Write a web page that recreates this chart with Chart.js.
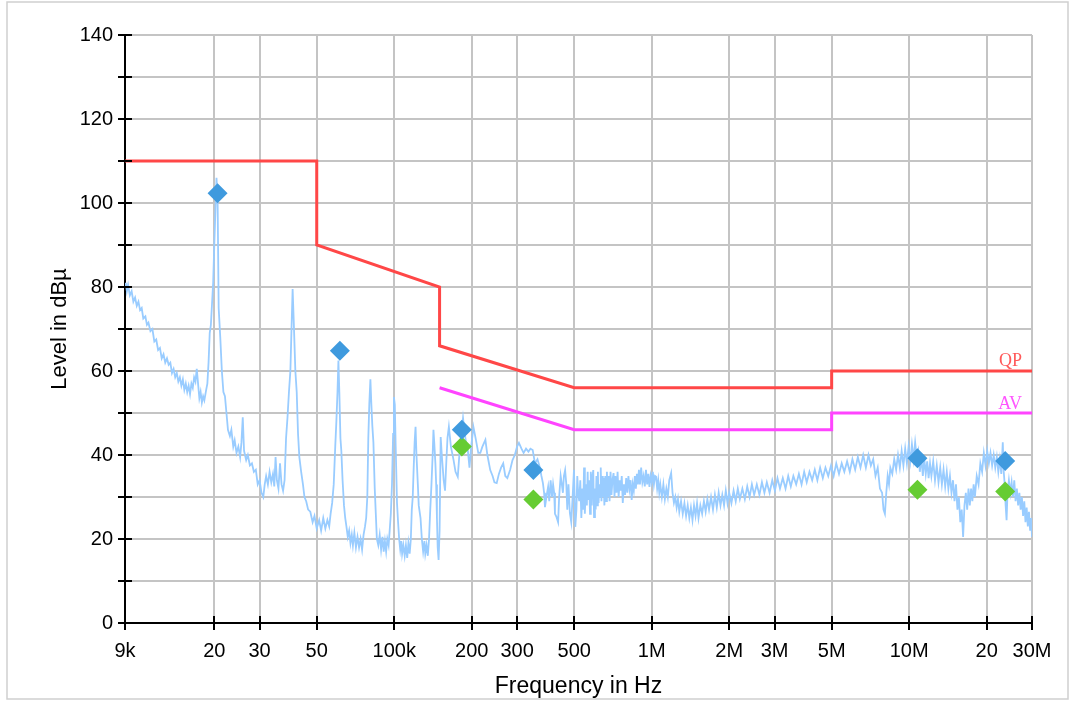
<!DOCTYPE html>
<html>
<head>
<meta charset="utf-8">
<title>Spectre</title>
<script src="https://cdn.jsdelivr.net/npm/chart.js@4.4.0/dist/chart.umd.min.js"></script>
<style>
  body { margin: 0; background: #fff; }
</style>
</head>
<body>
<canvas id="graphique" width="1070" height="701"></canvas>
<script>
// Axe des fréquences (Hz)
var xMin = 9e3, xMax = 3e7;
var xTickValues = [9e3, 2e4, 3e4, 5e4, 1e5, 2e5, 3e5, 5e5, 1e6, 2e6, 3e6, 5e6, 1e7, 2e7, 3e7];
var xTickLabels = ["9k", "20", "30", "50", "100k", "200", "300", "500", "1M", "2M", "3M", "5M", "10M", "20", "30M"];
// Axe des niveaux (dBµV)
var yMin = 0, yMax = 140, yStep = 10, yLabelEvery = 20;

// Limites QP et AV
var qpLimitFreq = [9e3, 5e4, 5e4, 1.5e5, 1.5e5, 5e5, 5e6, 5e6, 3e7];
var qpLimitLevel = [110, 110, 90, 80, 66, 56, 56, 60, 60];
var avLimitFreq = [1.5e5, 5e5, 5e6, 5e6, 3e7];
var avLimitLevel = [56, 46, 46, 50, 50];

// Mesures finales
var qpPeakFreq = [2.06e4, 6.15e4, 1.83e5, 3.47e5, 1.077e7, 2.36e7];
var qpPeakLevel = [102.3, 64.8, 46.0, 36.4, 39.2, 38.6];
var avPeakFreq = [1.83e5, 3.47e5, 1.077e7, 2.36e7];
var avPeakLevel = [42.0, 29.4, 31.7, 31.3];

// Balayage (kHz, dBµV)
var spectrum = [
  [9.0,80],[9.06,81],[9.15,79],[9.25,80.5],[9.4,78],[9.55,79],[9.7,76.5],[9.85,77.5],[10.0,75.5],[10.15,76.5],
  [10.3,74.5],[10.45,75],[10.6,72.5],[10.8,73],[10.95,71],[11.1,71.5],[11.3,69.5],[11.5,70],[11.7,67],[11.9,67.5],
  [12.1,65],[12.3,65.5],[12.5,63],[12.7,64],[12.9,62],[13.1,63],[13.3,61.5],[13.5,62],[13.7,59.5],[13.9,60.5],
  [14.1,58.5],[14.3,59.5],[14.5,57.5],[14.7,58.5],[14.9,56.5],[15.1,58],[15.3,55.5],[15.5,57],[15.7,55],[15.9,56.5],
  [16.1,54.5],[16.3,57],[16.5,56],[16.7,58.5],[16.9,57.5],[17.1,60.5],[17.3,57],[17.5,53.5],[17.7,55],[17.9,52.5],
  [18.1,54],[18.3,53],[18.6,55.5],[18.8,57],[19.0,62],[19.2,69],[19.4,71],[19.6,76],[19.8,81],[20.0,90],
  [20.2,98],[20.4,106],[20.6,101],[20.8,75],[21.1,68],[21.4,60],[21.7,55],[22.0,54],[22.3,50],[22.6,46],
  [23.0,44.5],[23.3,46],[23.7,42],[24.0,43.5],[24.4,40.5],[24.8,42],[25.2,39.5],[25.5,43],[25.8,49],[26.1,41],
  [26.6,38.8],[27.0,40],[27.5,37.5],[28.0,38],[28.5,36],[29.0,36.5],[29.5,33],[30.0,34],[30.5,31],[31.0,30],
  [31.4,33],[31.8,35],[32.3,33],[32.8,36],[33.3,33.5],[33.8,35.5],[34.2,32.5],[34.6,39.5],[35.0,34],[35.5,32],
  [36.0,38],[36.5,33],[37.0,31.5],[37.5,34],[38.0,44],[38.5,49],[39.0,55],[39.5,60],[39.9,70],[40.3,79.5],
  [40.7,72],[41.3,60],[41.8,55],[42.3,45],[42.8,39.5],[43.5,36],[44.2,33],[44.8,30],[45.5,29],[46.3,27],
  [47.2,26.5],[48.2,24],[49.0,25.5],[50.0,22.5],[51.1,24.5],[52.0,22],[53.0,25],[54.0,22.5],[55.0,24.5],[55.9,23],
  [56.6,26],[57.4,28.6],[58.2,33],[59.0,42],[59.6,48],[60.2,55],[60.7,62.5],[61.2,55],[61.8,44],[62.3,41],
  [63.0,34],[63.8,28],[64.5,25],[65.2,23],[66.0,20.5],[66.8,22],[67.6,19],[68.4,21],[69.1,18.5],[70.0,21.5],
  [71.0,18],[72.0,20.5],[73.0,18],[74.0,20],[75.0,17.5],[76.0,21],[77.0,23],[77.8,25],[78.6,30],[79.3,44],
  [80.0,52],[80.8,58],[81.5,52],[82.2,47],[83.0,43],[84.0,32],[84.8,26],[85.6,20],[86.7,18.5],[87.8,21],
  [88.9,17.5],[90.0,20.5],[91.0,17],[92.0,19.5],[93.0,17],[94.0,20],[95.1,18.5],[96.0,22],[97.0,26],[98.0,33],
  [99.0,45],[99.7,53.8],[100.5,52],[101.3,42],[102.5,28.6],[103.5,24],[104.5,20],[105.5,17.5],[106.5,19.5],[107.3,16.5],
  [108.5,18.5],[109.8,16],[111.0,18.5],[112.3,15.5],[113.5,19],[114.8,16.5],[116.0,20],[117.0,27],[118.0,30],[119.0,37],
  [120.0,43],[121.0,46.7],[122.0,40],[123.5,33],[124.5,28],[126.5,25],[128.0,20],[129.5,17],[131.0,19.5],[132.0,16.5],
  [133.5,18.5],[135.0,16],[136.5,20],[138.0,27],[139.5,33],[141.0,40],[142.0,46],[143.0,43],[144.5,38],[145.5,33],
  [146.5,25],[147.5,18],[148.7,15],[150.0,22],[151.5,44.3],[153.0,40],[155.6,34],[157.5,31.5],[159.5,39],[161.0,44],
  [163,46.7],[166,42],[170,38.8],[173,36],[176.5,34.8],[180,42],[183,46],[185,48.8],[188,45],[190,43],
  [192.5,42],[196,37],[199,42],[203,46.7],[207,44],[212,40.5],[216,40.5],[220,42],[226,43.6],[230,40],
  [236,36.4],[241,35],[245,33.5],[250,33.3],[255,35.5],[260,37],[265,38],[270,35],[275,34.5],[282,36.5],
  [288,38.8],[294,40],[300,42],[305,42.9],[312,41.5],[318,40.5],[325,41.5],[332,40.8],[338,41.5],[345,41.2],
  [352,38],[360,39],[368,37],[373,35],[378,33.3],[382,31],[385,27.6],[390,30],[396,32.4],[400,29],
  [405,34],[410,30],[414,33],[418,31],[421,26],[427,25.2],[433,24],[437,30],[443,35],[447,33.3],
  [452,31],[456,35],[461,36.4],[466,33],[470,27],[475,33],[481,26.2],[487,24],[493,30],[499,36.5],
  [505,22.9],[510,27],[514,35],[518,31],[523,29],[528,34],[533,25],[538,32],[542,27],[546,37],
  [550,26],[555,33],[560,28],[564,36],[567,29.3],[571,34],[576,26],[580,36],[585,28],[589,35],
  [593,36.4],[597,25.2],[602,32],[606,27],[610,35],[614,28],[618,36],[622,28.6],[626,33],[630,30],
  [634,37],[638,29],[642,35],[646,30],[650,34.5],[655,28],[660,35],[665,29],[670,36],[675,30],
  [680,35],[686,29],[692,36],[698,30.5],[704,34],[711,35.7],[717,30],[723,35],[730,31],[737,36],
  [744,30],[751,34],[758,31.5],[765,35],[772,28.6],[780,33],[788,30.5],[796,34.5],[804,31],[812,35],
  [820,32],[828,34],[836,29.3],[844,33],[852,31.5],[860,35],[868,32],[876,35.5],[884,33],[892,36.5],
  [900,33],[910,37],[920,33.5],[930,35],[940,32.5],[950,36.5],[960,33],[970,35.5],[980,32.4],[990,35],
  [1000,33.5],[1010,36],[1020,33],[1030,35],[1040,34.8],[1050,32],[1060,34],[1070,31],[1080,33],[1095,30],
  [1110,33],[1125,29.5],[1140,32],[1155,30],[1170,34],[1190,35.7],[1205,31],[1220,28.6],[1235,30],[1250,27.5],
  [1265,29.5],[1280,26.5],[1300,29],[1320,26],[1340,28.5],[1360,25.5],[1380,28],[1400,25],[1420,27.5],[1440,24.5],
  [1460,28],[1480,25.5],[1500,28.5],[1520,25],[1545,28],[1570,26],[1595,29],[1620,26.5],[1645,29.5],[1670,27],
  [1700,30],[1730,27],[1760,30.5],[1790,27.5],[1820,31],[1850,28],[1880,30.5],[1910,28],[1940,31.5],[1970,28.5],
  [2000,31],[2040,28.5],[2080,31.5],[2120,29],[2160,32],[2200,29.5],[2250,32],[2300,29.5],[2350,32.5],[2400,30],
  [2450,33],[2500,30.5],[2560,33],[2620,30.5],[2680,33.5],[2740,31],[2800,33.5],[2870,31],[2940,34],[3010,31.5],
  [3080,34.5],[3150,32],[3230,34.5],[3310,32],[3390,35],[3470,32.5],[3550,35],[3640,33],[3730,35.5],[3820,33],
  [3910,36],[4000,33.5],[4100,36],[4200,34],[4300,36.5],[4400,34],[4510,37],[4620,34.5],[4730,37],[4850,35],
  [4970,37.5],[5090,35],[5210,38],[5340,35.5],[5470,38],[5600,36],[5740,38.5],[5880,36],[6020,39],[6170,36.5],
  [6320,39.5],[6470,37],[6630,40],[6790,37],[6950,40],[7100,37.5],[7250,39],[7400,35],[7550,37],[7700,32],
  [7850,31],[7950,27],[8050,26],[8150,31],[8250,35],[8350,33],[8450,37],[8600,35.5],[8750,39],[8900,36.5],
  [9050,40],[9200,37],[9350,41],[9500,37.5],[9650,41.5],[9800,38],[9950,42],[10100,38.5],[10250,42.5],[10400,39],
  [10550,43],[10700,39.5],[10850,41],[11000,36],[11150,39.5],[11300,35],[11450,39],[11600,35.5],[11750,38.5],[11900,34.5],
  [12050,38],[12200,35],[12400,38.5],[12600,34],[12800,37.5],[13000,33.5],[13200,37],[13400,33],[13600,36.5],[13800,32.5],
  [14000,36],[14200,32],[14400,35],[14600,31],[14800,34],[15000,29],[15200,33],[15400,27],[15600,30],[15800,24],
  [16000,27],[16200,20.5],[16400,28],[16600,31],[16800,27],[17000,32],[17200,28],[17400,32],[17600,29],[17800,33],
  [18000,30],[18300,35],[18600,33],[18900,38],[19200,36],[19500,40.5],[19800,37.5],[20100,41],[20400,38],[20700,40.5],
  [21000,37.5],[21300,40],[21600,37],[21900,39.5],[22200,36],[22500,39],[22800,35.5],[23100,43],[23300,36],[23500,33],
  [23700,28],[23900,24.5],[24100,31],[24400,34],[24700,31],[25000,33.5],[25300,30],[25600,34],[25900,29],[26200,32],
  [26500,28],[26800,31],[27100,27],[27400,30],[27700,25.5],[28000,29],[28300,24],[28600,27.5],[28900,23],[29200,26.5],
  [29500,22],[29800,25],[30000,20.5]
];

// Construction des points pour Chart.js
function enPoints(freqs, niveaux) {
  var pts = [];
  for (var i = 0; i < freqs.length; i++) {
    pts.push({ x: freqs[i], y: niveaux[i] });
  }
  return pts;
}

var spectrumPoints = spectrum.map(function(p) {
  return { x: p[0] * 1000, y: p[1] };
});

var police = "'Liberation Sans', Arial, sans-serif";

// Décor : fond, traits de graduation qui croisent les axes, étiquettes QP / AV, cadre
var decorPlugin = {
  id: "decor",
  beforeDraw: function(chart) {
    var ctx = chart.ctx;
    ctx.save();
    ctx.fillStyle = "#fff";
    ctx.fillRect(0, 0, chart.width, chart.height);
    ctx.restore();
  },
  afterDraw: function(chart) {
    var ctx = chart.ctx;
    var xs = chart.scales.x, ys = chart.scales.y, area = chart.chartArea;
    ctx.save();
    ctx.strokeStyle = "#000";
    ctx.lineWidth = 2;
    ctx.beginPath();
    ys.ticks.forEach(function(t) {
      var py = Math.round(ys.getPixelForValue(t.value));
      ctx.moveTo(area.left - 7, py);
      ctx.lineTo(area.left + 7, py);
    });
    xs.ticks.forEach(function(t) {
      var px = Math.round(xs.getPixelForValue(t.value));
      ctx.moveTo(px, area.bottom - 7);
      ctx.lineTo(px, area.bottom + 7);
    });
    ctx.stroke();

    ctx.font = "18px 'Liberation Serif', serif";
    ctx.textAlign = "right";
    ctx.textBaseline = "alphabetic";
    var xTexte = xs.getPixelForValue(xMax) - 10;
    ctx.fillStyle = "#ff5a5a";
    ctx.fillText("QP", xTexte, ys.getPixelForValue(qpLimitLevel[qpLimitLevel.length - 1]) - 5);
    ctx.fillStyle = "#ff55ff";
    ctx.fillText("AV", xTexte, ys.getPixelForValue(avLimitLevel[avLimitLevel.length - 1]) - 4);

    ctx.strokeStyle = "#cfcfcf";
    ctx.lineWidth = 1.5;
    ctx.strokeRect(7, 2, chart.width - 9, chart.height - 4);
    ctx.restore();
  }
};

var ctx = document.getElementById("graphique").getContext("2d");
var chart = new Chart(ctx, {
  type: "scatter",
  data: {
    datasets: [
      {
        label: "QP",
        data: enPoints(qpPeakFreq, qpPeakLevel),
        pointStyle: "rectRot",
        pointRadius: 10,
        pointBackgroundColor: "#3f9ade",
        pointBorderColor: "#3f9ade",
        pointBorderWidth: 0,
        order: 0
      },
      {
        label: "AV",
        data: enPoints(avPeakFreq, avPeakLevel),
        pointStyle: "rectRot",
        pointRadius: 10,
        pointBackgroundColor: "#66cc33",
        pointBorderColor: "#66cc33",
        pointBorderWidth: 0,
        order: 0
      },
      {
        label: "Limite QP",
        data: enPoints(qpLimitFreq, qpLimitLevel),
        showLine: true,
        borderColor: "#ff4747",
        borderWidth: 3,
        pointRadius: 0,
        order: 1
      },
      {
        label: "Limite AV",
        data: enPoints(avLimitFreq, avLimitLevel),
        showLine: true,
        borderColor: "#ff44ff",
        borderWidth: 3,
        pointRadius: 0,
        order: 1
      },
      {
        label: "Balayage",
        data: spectrumPoints,
        showLine: true,
        borderColor: "#99ccff",
        borderWidth: 1.8,
        pointRadius: 0,
        order: 2
      }
    ]
  },
  options: {
    responsive: false,
    animation: false,
    devicePixelRatio: 1,
    layout: { padding: { left: 0, right: 38, top: 35, bottom: 0 } },
    plugins: {
      legend: { display: false },
      tooltip: { enabled: false }
    },
    scales: {
      x: {
        type: "logarithmic",
        min: xMin,
        max: xMax,
        afterBuildTicks: function(scale) {
          scale.ticks = xTickValues.map(function(v) { return { value: v }; });
        },
        afterFit: function(scale) { scale.height = 78; },
        ticks: {
          autoSkip: false,
          maxRotation: 0,
          padding: 16,
          color: "#000",
          font: { family: police, size: 20 },
          callback: function(value, index) { return xTickLabels[index]; }
        },
        grid: { color: "#c4c4c4", lineWidth: 2, drawTicks: false },
        border: { color: "#000", width: 2 },
        title: {
          display: true,
          text: "Frequency in Hz",
          color: "#000",
          font: { family: police, size: 23 },
          padding: { top: 0, bottom: 1 }
        }
      },
      y: {
        min: yMin,
        max: yMax,
        afterFit: function(scale) { scale.width = 125; },
        ticks: {
          stepSize: yStep,
          padding: 12,
          color: "#000",
          font: { family: police, size: 20 },
          callback: function(value) { return value % yLabelEvery === 0 ? value : ""; }
        },
        grid: { color: "#c4c4c4", lineWidth: 2, drawTicks: false },
        border: { color: "#000", width: 2 },
        title: {
          display: true,
          text: "Level in dBµ",
          color: "#000",
          font: { family: police, size: 22 },
          padding: { top: 47, bottom: 0 }
        }
      }
    }
  },
  plugins: [decorPlugin]
});
</script>
</body>
</html>
